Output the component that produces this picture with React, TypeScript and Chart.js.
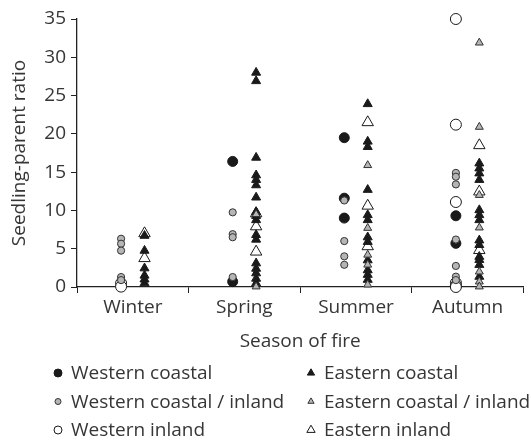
import React, { useEffect, useRef } from 'react';
import { Chart, registerables } from 'chart.js';

Chart.register(...registerables);

const FONT = "'Open Sans', sans-serif";
const FONT_SIZE = 19;
const TEXT = '#363636';
const AXIS = '#222222';

const seasons = ['Winter', 'Spring', 'Summer', 'Autumn'];
const yMin = 0;
const yMax = 35;
const yStep = 5;
const xTitle = 'Season of fire';
const yTitle = 'Seedling-parent ratio';

// values per season: [Winter, Spring, Summer, Autumn]
const westernCoastal: number[][] = [
  [],
  [16.4, 0.7],
  [19.5, 11.6, 9.0],
  [9.3, 5.7],
];
const westernCoastalInland: number[][] = [
  [6.3, 5.65, 4.75, 1.3, 0.9],
  [9.75, 6.9, 6.5, 1.3],
  [11.3, 6.0, 4.0, 2.9],
  [14.9, 14.4, 13.4, 6.2, 2.75, 1.35, 0.9],
];
const westernInland: number[][] = [
  [0.5, 0.05],
  [],
  [],
  [35.0, 21.2, 11.1, 0.55, 0.2, 0.0],
];
const easternCoastal: number[][] = [
  [6.7, 4.75, 2.45, 1.5, 1.0, 0.5],
  [28.0, 26.9, 16.9, 14.6, 14.0, 13.3, 11.7, 9.8, 9.3, 8.75, 6.8, 6.2, 3.1, 2.4, 1.8, 1.1, 0.5],
  [23.9, 19.0, 18.3, 12.7, 9.4, 8.75, 6.5, 5.9, 3.5, 2.2, 1.6, 0.95],
  [16.15, 15.5, 14.85, 14.0, 10.05, 9.4, 8.75, 6.1, 5.5, 3.95, 3.55, 2.9, 1.35],
];
const easternCoastalInland: number[][] = [
  [],
  [9.5, 0.05],
  [15.9, 7.7, 4.2, 2.9, 0.3],
  [31.9, 20.9, 12.0, 7.75, 2.0, 0.7, 0.05],
];
const easternInland: number[][] = [
  [7.0, 3.75],
  [9.6, 7.9, 4.6],
  [21.5, 10.6, 5.3],
  [18.5, 12.45, 4.8],
];

type Style = {
  label: string;
  values: number[][];
  side: number;
  shape: 'circle' | 'triangle';
  fill: string;
  stroke: string;
  radius: number;
  legendRadius: number;
  order: number;
};

const series: Style[] = [
  { label: 'Western coastal', values: westernCoastal, side: -1, shape: 'circle', fill: '#1a1a1a', stroke: '#1a1a1a', radius: 5, legendRadius: 4, order: 2 },
  { label: 'Western coastal / inland', values: westernCoastalInland, side: -1, shape: 'circle', fill: '#b5b5b5', stroke: '#333333', radius: 3.6, legendRadius: 3, order: 1 },
  { label: 'Western inland', values: westernInland, side: -1, shape: 'circle', fill: '#ffffff', stroke: '#1a1a1a', radius: 5.5, legendRadius: 4, order: 3 },
  { label: 'Eastern coastal', values: easternCoastal, side: 1, shape: 'triangle', fill: '#1a1a1a', stroke: '#1a1a1a', radius: 5.2, legendRadius: 4.2, order: 2 },
  { label: 'Eastern coastal / inland', values: easternCoastalInland, side: 1, shape: 'triangle', fill: '#b5b5b5', stroke: '#333333', radius: 4.6, legendRadius: 3.6, order: 1 },
  { label: 'Eastern inland', values: easternInland, side: 1, shape: 'triangle', fill: '#ffffff', stroke: '#1a1a1a', radius: 6.6, legendRadius: 4.8, order: 3 },
];

const OFFSET = 0.105;

function drawMarker(ctx: CanvasRenderingContext2D, s: Style, x: number, y: number) {
  const r = s.legendRadius;
  ctx.beginPath();
  if (s.shape === 'circle') {
    ctx.arc(x, y, r, 0, Math.PI * 2);
  } else {
    let rad = 0;
    ctx.moveTo(x + Math.sin(rad) * r, y - Math.cos(rad) * r);
    rad += (2 * Math.PI) / 3;
    ctx.lineTo(x + Math.sin(rad) * r, y - Math.cos(rad) * r);
    rad += (2 * Math.PI) / 3;
    ctx.lineTo(x + Math.sin(rad) * r, y - Math.cos(rad) * r);
    ctx.closePath();
  }
  ctx.fillStyle = s.fill;
  ctx.fill();
  ctx.lineWidth = 1;
  ctx.strokeStyle = s.stroke;
  ctx.stroke();
}

const legendPlugin = {
  id: 'twoColumnLegend',
  afterDraw(chart: any) {
    const ctx: CanvasRenderingContext2D = chart.ctx;
    const left = chart.chartArea.left;
    ctx.save();
    ctx.font = `${FONT_SIZE}px ${FONT}`;
    ctx.textBaseline = 'middle';
    ctx.textAlign = 'left';
    series.forEach((s, i) => {
      const col = i < 3 ? 0 : 1;
      const row = i % 3;
      const mx = left - 19 + col * 253;
      const my = 373 + row * 28.5;
      drawMarker(ctx, s, mx, my);
      ctx.fillStyle = TEXT;
      ctx.fillText(s.label, mx + 13, my + 1);
    });
    ctx.restore();
  },
};

export default function App() {
  const ref = useRef<HTMLCanvasElement>(null);

  useEffect(() => {
    document.body.style.margin = '0';
    if (!ref.current) return;
    const datasets = series.map((s) => ({
      label: s.label,
      data: seasons.flatMap((_, i) => s.values[i].map((v) => ({ x: i + s.side * OFFSET, y: v }))),
      pointStyle: s.shape,
      pointRadius: s.radius,
      pointHoverRadius: s.radius,
      pointBackgroundColor: s.fill,
      pointBorderColor: s.stroke,
      pointBorderWidth: 1,
      showLine: false,
      clip: false as any,
      order: s.order,
    }));

    const chart = new Chart(ref.current, {
      type: 'scatter',
      data: { datasets },
      plugins: [legendPlugin],
      options: {
        animation: false,
        responsive: false,
        layout: { padding: { top: 19, right: 0, bottom: 90, left: 0 } },
        plugins: {
          legend: { display: false },
          tooltip: { enabled: false },
        },
        scales: {
          x: {
            type: 'linear',
            min: -0.5,
            max: seasons.length - 0.5,
            afterFit: (scale: any) => {
              scale.height = 70;
            },
            ticks: {
              stepSize: 0.5,
              autoSkip: false,
              maxRotation: 0,
              padding: 3,
              color: TEXT,
              font: { family: FONT, size: FONT_SIZE },
              callback: (v: any) => (Number.isInteger(v) ? seasons[v] : ''),
            },
            grid: {
              drawOnChartArea: false,
              drawTicks: true,
              tickLength: 6,
              tickColor: (ctx: any) =>
                ctx.tick && Number.isInteger(ctx.tick.value) ? 'rgba(0,0,0,0)' : AXIS,
            },
            border: { color: AXIS, width: 1.3 },
            title: {
              display: true,
              text: xTitle,
              color: TEXT,
              font: { family: FONT, size: FONT_SIZE },
              padding: { top: 4, bottom: 4 },
            },
          },
          y: {
            min: yMin,
            max: yMax,
            afterFit: (scale: any) => {
              scale.width = 77;
            },
            ticks: {
              stepSize: yStep,
              padding: 5,
              color: TEXT,
              font: { family: FONT, size: FONT_SIZE },
            },
            grid: {
              drawOnChartArea: false,
              drawTicks: true,
              tickLength: 6,
              tickColor: AXIS,
            },
            border: { color: AXIS, width: 1.3 },
            title: {
              display: true,
              text: yTitle,
              color: TEXT,
              font: { family: FONT, size: FONT_SIZE },
              padding: { top: 8, bottom: 4 },
            },
          },
        },
      },
    });
    return () => chart.destroy();
  }, []);

  return <canvas ref={ref} width={531} height={447} style={{ display: 'block' }} />;
}
